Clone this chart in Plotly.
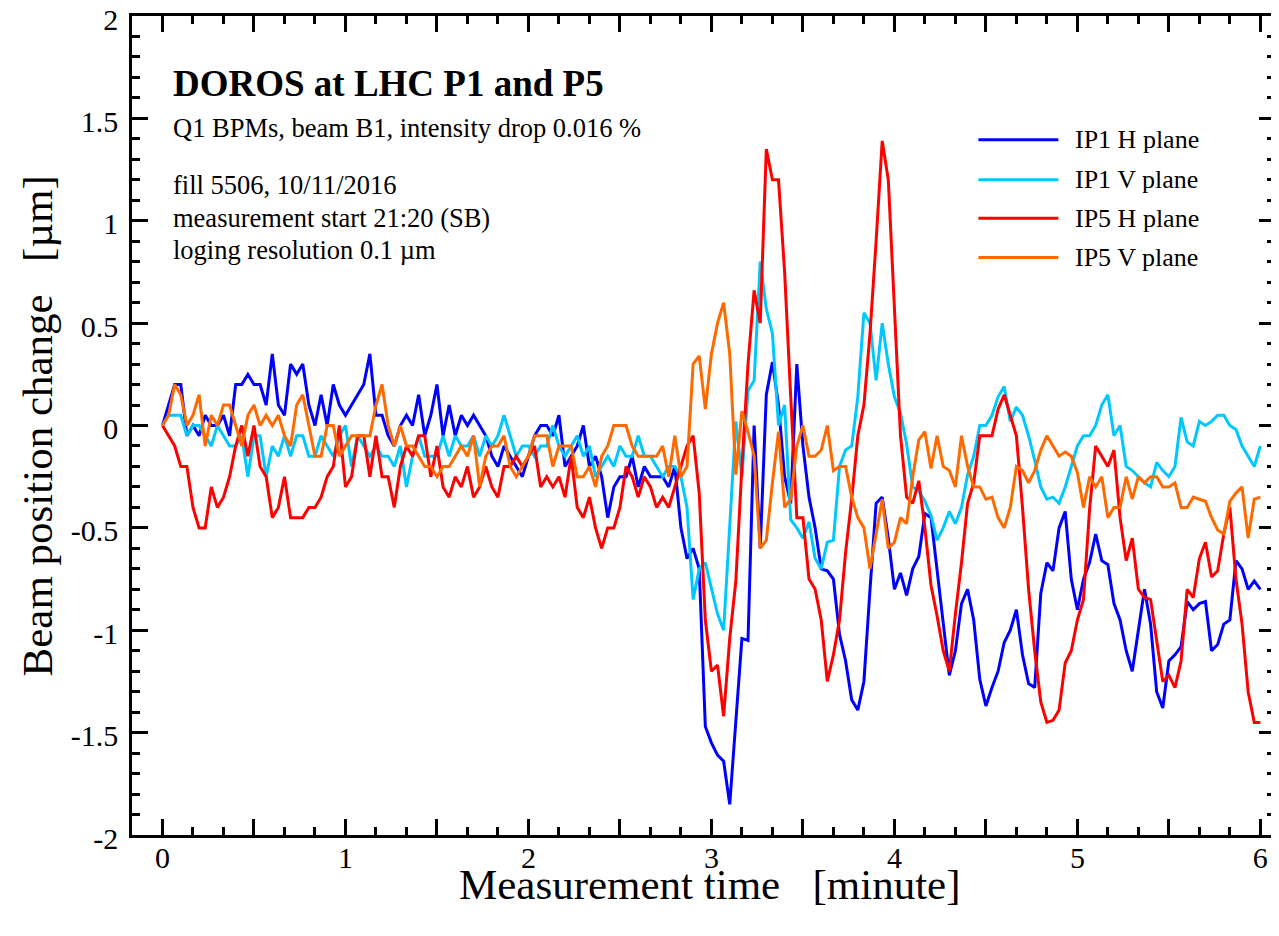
import plotly.graph_objects as go

# DOROS logging, one sample every 2 s, beam position change in um
step_min = 2 / 60

ip1_h = [0, 0.1, 0.2, 0.2, -0.05, 0.0, -0.05, 0.05, 0.0, 0.0, 0.05, -0.05, 0.2, 0.2, 0.25, 0.2, 0.2, 0.1, 0.35, 0.1,
         0.05, 0.3, 0.25, 0.3, 0.1, 0.0, 0.15, 0.0, 0.2, 0.1, 0.05,
         0.1, 0.15, 0.2, 0.35, 0.05, 0.05, -0.05, -0.1, 0.0, 0.05, 0.0, 0.15, -0.05, 0.05, 0.2, -0.05, 0.1, -0.05, 0.05,
         0.0, 0.05, 0.0, -0.05, -0.15, -0.2, -0.1, -0.15, -0.2, -0.25, -0.15, -0.05,
         0.0, 0.0, -0.05, 0.05, -0.2, -0.15, -0.1, 0.0, -0.2, -0.15, -0.25, -0.45, -0.3, -0.25, -0.25, -0.15, -0.3, -0.2,
         -0.25, -0.25, -0.25, -0.3, -0.2, -0.5, -0.65, -0.6,
         -0.7, -1.47, -1.55, -1.61, -1.64, -1.85, -1.42, -1.04, -1.05, 0.0, -0.6, 0.15, 0.31, 0.1, -0.25, -0.38, 0.3,
         -0.1, -0.35, -0.5, -0.7, -0.71, -0.75,
         -1.02, -1.15, -1.34, -1.39, -1.25, -0.8, -0.38, -0.35, -0.55, -0.8, -0.72, -0.83, -0.7, -0.64, -0.43, -0.45,
         -0.7, -0.94, -1.22, -1.1,
         -0.87, -0.8, -0.95, -1.24, -1.37, -1.28, -1.2, -1.06, -1.0, -0.9, -1.12, -1.26, -1.28, -0.82, -0.67, -0.71,
         -0.5, -0.42, -0.75, -0.9, -0.75, -0.67, -0.53, -0.66, -0.68, -0.87, -0.95, -1.1,
         -1.2, -1.0, -0.8, -0.97, -1.3, -1.38, -1.15, -1.12, -1.08, -0.86, -0.9, -0.87, -0.86, -1.1, -1.07, -0.97,
         -0.95, -0.66, -0.7, -0.8, -0.76, -0.8]

ip1_v = [0, 0.05, 0.05, 0.05, -0.05, 0.0, 0.0, -0.05, -0.1, 0.0, -0.05, -0.1, -0.1, -0.05, -0.25, -0.05, -0.05,
         -0.25, -0.1, -0.15, -0.05, -0.15, -0.05, -0.05, -0.15, -0.15, -0.05, -0.1, -0.15, -0.05, 0.0,
         -0.2, -0.05, -0.1, -0.15, -0.1, -0.15, -0.15, -0.2, -0.1, -0.3, -0.15, -0.05, -0.15, -0.15, -0.15, -0.05,
         -0.15, -0.05, -0.1, -0.1, -0.05, -0.15, -0.05, -0.1, -0.05, 0.05, -0.05, -0.15, -0.1, -0.1, -0.15,
         -0.1, -0.1, 0.0, -0.1, -0.15, -0.1, -0.05, -0.15, -0.1, -0.25, -0.2, -0.15, -0.2, -0.1, -0.15, -0.15, -0.05,
         -0.15, -0.15, -0.2, -0.25, -0.2, -0.2, -0.25, -0.4, -0.85,
         -0.7, -0.67, -0.8, -0.92, -1.0, -0.5, 0.02, -0.25, 0.17, 0.22, 0.8, 0.57, 0.45, 0.0, 0.1, -0.46, -0.5,
         -0.55, -0.47, -0.65, -0.7, -0.57, -0.56,
         -0.2, -0.12, -0.1, 0.14, 0.55, 0.5, 0.22, 0.5, 0.3, 0.14, 0.06, -0.09, -0.3, -0.32, -0.37, -0.44, -0.56,
         -0.5, -0.42, -0.48,
         -0.4, -0.24, -0.15, 0.0, 0.0, 0.05, 0.14, 0.19, 0.02, 0.09, 0.05, -0.05, -0.17, -0.3, -0.36, -0.35, -0.38,
         -0.3, -0.2, -0.1, -0.05, -0.05, 0.0, 0.1, 0.15, -0.05, 0.0, -0.2,
         -0.22, -0.25, -0.28, -0.3, -0.18, -0.22, -0.25, -0.2, 0.04, -0.08, -0.1, 0.02, 0.0, 0.02, 0.05, 0.05, 0.0,
         -0.02, -0.1, -0.15, -0.2, -0.1]

ip5_h = [0, -0.05, -0.1, -0.2, -0.2, -0.4, -0.5, -0.5, -0.3, -0.4, -0.35, -0.25, -0.1, 0.0, -0.15, 0.0, -0.2,
         -0.25, -0.45, -0.4, -0.25, -0.45, -0.45, -0.45, -0.4, -0.4, -0.35, -0.25, -0.2, 0.0, -0.3,
         -0.25, -0.05, -0.05, -0.25, -0.05, -0.25, -0.25, -0.4, -0.2, -0.1, -0.15, -0.05, -0.05, -0.25, -0.1, -0.3,
         -0.35, -0.25, -0.3, -0.2, -0.35, -0.3, -0.2, -0.3, -0.35, -0.2, -0.2, -0.15, -0.2, -0.15, -0.1,
         -0.3, -0.25, -0.3, -0.25, -0.35, -0.15, -0.4, -0.45, -0.35, -0.5, -0.6, -0.5, -0.5, -0.4, -0.2, -0.25,
         -0.35, -0.25, -0.3, -0.4, -0.35, -0.4, -0.3, -0.2, -0.1, -0.05,
         -0.33, -0.95, -1.2, -1.17, -1.42, -1.04, -0.76, -0.2, 0.3, 0.66, 0.5, 1.35, 1.2, 1.2, 0.75, 0.14, -0.45,
         -0.45, -0.75, -0.8, -0.95, -1.25, -1.12,
         -0.95, -0.62, -0.36, -0.05, 0.1, 0.45, 0.9, 1.39, 1.2, 0.55, -0.05, -0.35, -0.38, -0.27, -0.5, -0.78, -0.93,
         -1.1, -1.2, -0.92,
         -0.67, -0.38, -0.28, -0.05, -0.05, -0.05, 0.08, 0.15, 0.05, -0.05, -0.4, -0.8, -1.1, -1.35, -1.45, -1.44,
         -1.39, -1.16, -1.1, -0.95, -0.85, -0.41, -0.1, -0.15, -0.2, -0.12, -0.45, -0.66,
         -0.55, -0.8, -0.84, -0.85, -1.06, -1.25, -1.22, -1.28, -1.15, -0.8, -0.84, -0.65, -0.57, -0.74, -0.71, -0.53,
         -0.4, -0.75, -0.97, -1.3, -1.45, -1.45]

ip5_v = [0, 0.05, 0.2, 0.15, 0.0, 0.05, 0.15, -0.1, 0.05, 0.0, 0.1, 0.1, 0.0, -0.1, 0.05, 0.1, 0.0, 0.05, 0.0,
         0.05, -0.05, -0.1, 0.1, 0.15, 0.0, -0.15, -0.15, 0.0, 0.0, -0.15, -0.1,
         -0.05, -0.05, -0.05, -0.05, 0.1, 0.2, 0.0, -0.1, 0.0, -0.1, -0.1, -0.15, -0.2, -0.2, -0.25, -0.2, -0.2,
         -0.15, -0.1, -0.15, -0.05, -0.3, -0.15, -0.1, -0.1, -0.05, -0.2, -0.25, -0.2, -0.15, -0.05,
         -0.05, -0.05, -0.2, -0.1, -0.1, -0.1, -0.25, -0.25, -0.2, -0.3, -0.15, -0.1, 0.0, 0.0, 0.0, -0.1, -0.15,
         -0.15, -0.15, -0.15, -0.1, -0.25, -0.05, -0.25, -0.2, 0.3,
         0.34, 0.08, 0.35, 0.5, 0.6, 0.35, -0.24, 0.07, -0.03, -0.15, -0.6, -0.56, -0.28, -0.03, -0.4, -0.36, -0.1,
         0.0, -0.15, -0.15, -0.12, 0.0, -0.22,
         -0.2, -0.2, -0.35, -0.45, -0.5, -0.7, -0.53, -0.36, -0.6, -0.57, -0.45, -0.48, -0.25, -0.07, -0.03, -0.21,
         -0.05, -0.2, -0.22, -0.3,
         -0.05, -0.2, -0.3, -0.3, -0.36, -0.35, -0.45, -0.5, -0.4, -0.2, -0.22, -0.28, -0.22, -0.12, -0.05, -0.1,
         -0.15, -0.13, -0.15, -0.23, -0.4, -0.25, -0.3, -0.25, -0.45, -0.4, -0.4, -0.25,
         -0.36, -0.25, -0.28, -0.25, -0.25, -0.3, -0.3, -0.28, -0.4, -0.4, -0.35, -0.36, -0.37, -0.45, -0.51, -0.53,
         -0.37, -0.33, -0.3, -0.55, -0.36, -0.35]

series = [
    ("IP1 H plane", ip1_h, "#0000ff"),
    ("IP1 V plane", ip1_v, "#00c8ff"),
    ("IP5 H plane", ip5_h, "#ff0000"),
    ("IP5 V plane", ip5_v, "#ff6a00"),
]

x_ticks = [i * 0.5 for i in range(13)]
x_labels = [str(int(v)) if v == int(v) else "" for v in x_ticks]
y_ticks = [-2, -1.5, -1, -0.5, 0, 0.5, 1, 1.5, 2]
y_labels = ["-2", "-1.5", "-1", "-0.5", "0", "0.5", "1", "1.5", "2"]

FONT = "Liberation Serif"

fig = go.Figure()
for name, vals, col in series:
    t = [i * step_min for i in range(len(vals))]
    fig.add_trace(go.Scatter(x=t, y=vals, mode="lines", name=name,
                             line=dict(color=col, width=3), showlegend=False))

# hand-made legend, top right
leg_y = [0.849, 0.800, 0.753, 0.705]
for (name, vals, col), yy in zip(series, leg_y):
    fig.add_shape(type="line", xref="paper", yref="paper", x0=0.7405, x1=0.8105, y0=yy, y1=yy,
                  line=dict(color=col, width=3))
    fig.add_annotation(xref="paper", yref="paper", x=0.823, y=yy, text=name, showarrow=False,
                       xanchor="left", yanchor="middle", font=dict(size=26, color="black", family=FONT))

notes = [
    ("<b>DOROS at LHC P1 and P5</b>", 0.918, 37),
    ("Q1 BPMs, beam B1, intensity drop 0.016 %", 0.863, 26.5),
    ("fill 5506, 10/11/2016", 0.794, 26.5),
    ("measurement start 21:20 (SB)", 0.753, 26.5),
    ("loging resolution 0.1 \u00b5m", 0.714, 26.5),
]
for txt, yy, sz in notes:
    fig.add_annotation(xref="paper", yref="paper", x=0.034, y=yy, text=txt, showarrow=False,
                       xanchor="left", yanchor="middle", font=dict(size=sz, color="black", family=FONT))

# axis titles
fig.add_annotation(xref="paper", yref="paper", x=0.5057, y=-0.061, text="Measurement time   [minute]",
                   showarrow=False, xanchor="center", yanchor="middle",
                   font=dict(size=43, color="black", family=FONT))
fig.add_annotation(xref="paper", yref="paper", x=-0.083, y=0.499, text="Beam position change   [\u00b5m]",
                   showarrow=False, textangle=-90, xanchor="center", yanchor="middle",
                   font=dict(size=43, color="black", family=FONT))

axis_common = dict(showline=True, linecolor="black", linewidth=2.5, mirror="allticks",
                   ticks="inside", ticklen=16, tickwidth=2.5, tickcolor="black",
                   showgrid=False, zeroline=False, automargin=False, ticklabeloverflow="allow",
                   tickfont=dict(size=30, color="black", family=FONT))

fig.update_xaxes(range=[-1 / 6, 6.08], tickvals=x_ticks, ticktext=x_labels,
                 minor=dict(dtick=1 / 6, tick0=0, ticks="inside", ticklen=8, tickwidth=2.5, tickcolor="black"),
                 ticklabelstandoff=-6, **axis_common)
fig.update_yaxes(range=[-2, 2], tickvals=y_ticks, ticktext=y_labels,
                 minor=dict(dtick=0.1, tick0=0, ticks="inside", ticklen=8, tickwidth=2.5, tickcolor="black"),
                 ticklabelstandoff=5, ticklabelshift=3, **axis_common)

# page body adds an 8 px offset, so the figure is trimmed to fit the window
fig.update_layout(width=1271, height=920, margin=dict(l=124, r=4, t=8, b=93),
                  paper_bgcolor="white", plot_bgcolor="white", showlegend=False,
                  font=dict(family=FONT, color="black"))

fig.write_html("out.html")
